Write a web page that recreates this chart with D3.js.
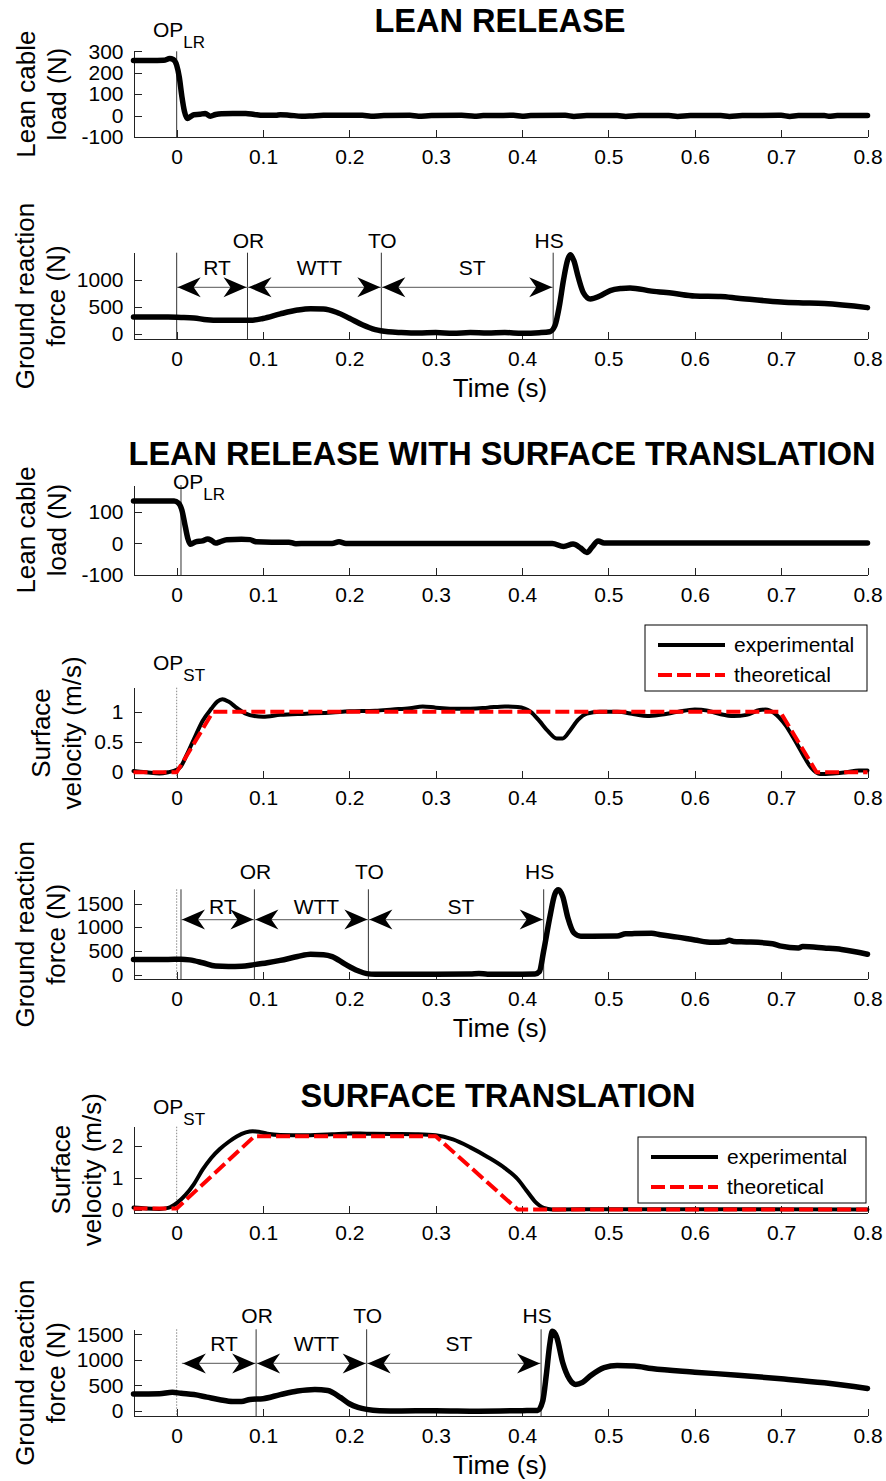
<!DOCTYPE html>
<html>
<head>
<meta charset="utf-8">
<script src="https://cdn.jsdelivr.net/npm/d3@7/dist/d3.min.js"></script>
<style>
  html, body { margin: 0; padding: 0; background: #fff; }
  svg { display: block; font-family: "Liberation Sans", Arial, Helvetica, sans-serif; }
  .axis path, .axis line { stroke: #222; stroke-width: 1; shape-rendering: crispEdges; }
  .axis text { font-size: 21px; fill: #000; }
</style>
</head>
<body>
<script>
// ---------- shared time axis ----------
const timeDomain = [-0.05, 0.8];
const timeTicks = [0, 0.1, 0.2, 0.3, 0.4, 0.5, 0.6, 0.7, 0.8];
const timeTickLabels = ["0", "0.1", "0.2", "0.3", "0.4", "0.5", "0.6", "0.7", "0.8"];

// ---------- LEAN RELEASE ----------
const lrCableTicks = [300, 200, 100, 0, -100];
const lrCable = [[-0.05,257],[-0.03,257],[-0.015,258],[-0.008,266],[-0.004,262],[0,235],[0.003,180],[0.006,90],[0.009,20],[0.0125,-14],[0.016,-5],[0.02,4],[0.027,6],[0.033,10],[0.039,-3],[0.045,5],[0.052,9],[0.065,10],[0.08,10],[0.09,5],[0.1,1],[0.115,2],[0.12,4],[0.13,2],[0.145,-3],[0.155,-2],[0.17,1],[0.2,1],[0.215,1],[0.225,-3],[0.24,0],[0.27,1],[0.28,-3],[0.295,0],[0.33,1],[0.345,-3],[0.355,0],[0.39,1],[0.4,-3],[0.41,0],[0.45,1],[0.46,-4],[0.475,0],[0.51,0],[0.52,-4],[0.535,0],[0.57,0],[0.58,-4],[0.595,0],[0.63,0],[0.64,-4],[0.655,0],[0.7,1],[0.71,-4],[0.72,0],[0.75,0],[0.755,-3],[0.765,0],[0.8,0]];

const lrGrfTicks = [0, 500, 1000];
const lrGrf = [[-0.05,310],[-0.01,310],[0.005,305],[0.02,295],[0.035,260],[0.05,250],[0.085,250],[0.1,285],[0.12,370],[0.14,440],[0.155,465],[0.17,460],[0.185,400],[0.2,290],[0.215,170],[0.23,80],[0.245,40],[0.26,25],[0.28,15],[0.3,25],[0.32,12],[0.34,25],[0.36,15],[0.38,25],[0.4,12],[0.42,22],[0.432,40],[0.438,150],[0.443,500],[0.448,1000],[0.453,1380],[0.456,1460],[0.46,1350],[0.465,1050],[0.471,760],[0.479,645],[0.49,700],[0.502,800],[0.515,840],[0.525,850],[0.55,790],[0.575,750],[0.6,700],[0.63,690],[0.65,660],[0.7,590],[0.72,575],[0.75,560],[0.8,485]];
const lrEvents = { OP: 0, OR: 0.082, TO: 0.237, HS: 0.436 };

// ---------- LEAN RELEASE WITH SURFACE TRANSLATION ----------
const lrstCableTicks = [100, 0, -100];
const lrstCable = [[-0.05,134],[-0.003,134],[0.002,128],[0.006,106],[0.01,53],[0.013,15],[0.016,-3],[0.022,5],[0.03,8],[0.036,14],[0.04,10],[0.045,1],[0.05,5],[0.058,12],[0.075,13],[0.085,12],[0.092,5],[0.11,4],[0.13,4],[0.138,-1],[0.15,0],[0.18,0],[0.188,5],[0.196,0],[0.435,0],[0.448,-10],[0.459,-2],[0.468,-15],[0.475,-29],[0.481,-12],[0.488,8],[0.495,1],[0.8,1]];

const lrstVelTicks = [0, 0.5, 1];
const lrstVelExp = [[-0.05,0.02],[-0.035,0.0],[-0.02,-0.02],[-0.01,0.0],[0,0.04],[0.005,0.1],[0.012,0.3],[0.02,0.55],[0.03,0.85],[0.04,1.05],[0.047,1.17],[0.053,1.21],[0.06,1.17],[0.07,1.06],[0.08,0.97],[0.09,0.93],[0.1,0.92],[0.12,0.95],[0.15,0.97],[0.18,0.99],[0.2,1.01],[0.23,1.02],[0.25,1.04],[0.27,1.06],[0.285,1.09],[0.3,1.07],[0.33,1.05],[0.36,1.07],[0.38,1.09],[0.395,1.08],[0.41,1.0],[0.42,0.85],[0.43,0.68],[0.44,0.56],[0.447,0.56],[0.455,0.68],[0.465,0.87],[0.475,0.97],[0.49,1.0],[0.51,1.0],[0.53,0.96],[0.545,0.93],[0.56,0.95],[0.58,1.0],[0.6,1.04],[0.615,1.02],[0.63,0.96],[0.645,0.93],[0.66,0.95],[0.675,1.03],[0.682,1.04],[0.692,0.98],[0.705,0.78],[0.715,0.55],[0.725,0.3],[0.735,0.07],[0.745,-0.03],[0.76,-0.02],[0.775,0.0],[0.79,0.03],[0.8,0.03]];
const lrstVelTheo = [[-0.05,0],[0,0],[0.042,1],[0.699,1],[0.741,0],[0.8,0]];

const lrstGrfTicks = [0, 500, 1000, 1500];
const lrstGrf = [[-0.05,320],[-0.01,320],[0.005,325],[0.015,310],[0.03,250],[0.045,180],[0.06,170],[0.075,175],[0.09,210],[0.105,250],[0.12,300],[0.14,380],[0.155,430],[0.17,420],[0.18,380],[0.195,220],[0.21,80],[0.22,20],[0.23,5],[0.3,5],[0.34,10],[0.35,22],[0.36,8],[0.4,8],[0.415,10],[0.42,60],[0.425,500],[0.432,1200],[0.438,1700],[0.442,1790],[0.447,1650],[0.453,1200],[0.46,880],[0.468,810],[0.48,810],[0.51,815],[0.52,860],[0.53,865],[0.55,870],[0.56,840],[0.58,790],[0.6,730],[0.62,680],[0.635,695],[0.64,725],[0.645,700],[0.66,690],[0.69,650],[0.7,600],[0.72,560],[0.725,590],[0.75,560],[0.77,530],[0.8,430]];
const lrstEvents = { OP: 0, OPLR: 0.005, OR: 0.09, TO: 0.222, HS: 0.425 };

// ---------- SURFACE TRANSLATION ----------
const stVelTicks = [0, 1, 2];
const stVelExp = [[-0.05,0.06],[-0.035,0.03],[-0.02,0.02],[-0.01,0.05],[0,0.2],[0.01,0.45],[0.02,0.8],[0.03,1.25],[0.04,1.62],[0.05,1.9],[0.06,2.12],[0.07,2.3],[0.08,2.42],[0.088,2.46],[0.095,2.44],[0.105,2.38],[0.12,2.34],[0.15,2.33],[0.18,2.36],[0.2,2.39],[0.22,2.38],[0.25,2.37],[0.28,2.36],[0.3,2.33],[0.32,2.2],[0.34,1.95],[0.36,1.65],[0.38,1.3],[0.395,0.95],[0.405,0.6],[0.415,0.25],[0.425,0.05],[0.435,0.0],[0.5,0.01],[0.6,0.01],[0.8,0.0]];
const stVelTheo = [[-0.05,0.03],[0,0.03],[0.09,2.3],[0.3,2.3],[0.395,0],[0.8,0]];

const stGrfTicks = [0, 500, 1000, 1500];
const stGrf = [[-0.05,330],[-0.02,335],[-0.005,365],[0.005,345],[0.02,320],[0.035,270],[0.05,220],[0.065,185],[0.075,185],[0.085,225],[0.1,240],[0.12,320],[0.14,390],[0.16,420],[0.175,400],[0.19,260],[0.2,140],[0.21,70],[0.22,30],[0.235,5],[0.26,0],[0.3,5],[0.35,-5],[0.4,5],[0.418,10],[0.424,200],[0.428,700],[0.432,1300],[0.435,1560],[0.44,1450],[0.447,950],[0.455,620],[0.462,520],[0.47,560],[0.48,700],[0.495,850],[0.51,890],[0.53,880],[0.55,830],[0.6,760],[0.65,700],[0.7,630],[0.75,550],[0.8,440]];
const stEvents = { OP: 0, OR: 0.092, TO: 0.22, HS: 0.422 };

const legendLabels = ["experimental", "theoretical"];

// ---------- drawing ----------
const W = 886, H = 1481;
const svg = d3.select("body").append("svg").attr("width", W).attr("height", H);
const x = d3.scaleLinear().domain(timeDomain).range([133.5, 867.5]);

function panel(top, bottom, yDomain, yTicks, yLabelLines, labelX, opts = {}) {
  const y = d3.scaleLinear().domain(yDomain).range([bottom, top]);
  const g = svg.append("g");
  g.append("g").attr("class", "axis")
    .attr("transform", `translate(0,${bottom})`)
    .call(d3.axisBottom(x).tickValues(timeTicks)
      .tickFormat((d, i) => timeTickLabels[i])
      .tickSizeInner(-7).tickSizeOuter(0).tickPadding(12));
  g.append("g").attr("class", "axis")
    .attr("transform", `translate(${x.range()[0]},0)`)
    .call(d3.axisLeft(y).tickValues(yTicks).tickFormat(d => String(d))
      .tickSizeInner(-8).tickSizeOuter(0).tickPadding(10));
  const yl = g.append("g").attr("transform", `translate(${labelX},${(top + bottom) / 2}) rotate(-90)`);
  yLabelLines.forEach((s, i) => {
    yl.append("text").attr("x", 0).attr("y", i * 31).attr("text-anchor", "middle")
      .attr("font-size", 26).text(s);
  });
  if (opts.xLabel) {
    g.append("text").attr("x", 500).attr("y", bottom + 58).attr("text-anchor", "middle")
      .attr("font-size", 26).text("Time (s)");
  }
  return { g, y, top, bottom };
}

function series(p, data, color, width, dash, straight) {
  const line = d3.line().x(d => x(d[0])).y(d => p.y(d[1]))
    .curve(straight ? d3.curveLinear : d3.curveMonotoneX);
  p.g.append("path").datum(data).attr("d", line)
    .attr("fill", "none").attr("stroke", color).attr("stroke-width", width)
    .attr("stroke-linejoin", "round").attr("stroke-linecap", dash ? "butt" : "round")
    .attr("stroke-dasharray", dash || null);
}

function vline(p, t, style) {
  const l = p.g.append("line").attr("x1", x(t)).attr("x2", x(t))
    .attr("y1", p.top).attr("y2", p.bottom).attr("stroke-width", 1);
  if (style === "dotted") l.attr("stroke", "#888").attr("stroke-dasharray", "1.5,1.5");
  else l.attr("stroke", "#333");
}

function opLabel(p, sub, xpos, baseline) {
  const tx = p.g.append("text").attr("x", xpos).attr("y", baseline).attr("font-size", 21);
  tx.append("tspan").text("OP");
  tx.append("tspan").attr("font-size", 17).attr("dy", 11).text(sub);
}

function arrowHead(g, tipX, yv, dir) {
  // filled head with a notched back, dir = +1 points right, -1 points left
  const L = 23, hw = 10, notch = 16;
  const pts = [[tipX, yv], [tipX - dir * L, yv - hw], [tipX - dir * notch, yv], [tipX - dir * L, yv + hw]];
  g.append("path").attr("d", "M" + pts.map(q => q.join(",")).join("L") + "Z").attr("fill", "#000");
}

function interval(p, t0, t1, yv, label, labelDy) {
  const x0 = x(t0), x1 = x(t1), yy = p.y(yv);
  p.g.append("line").attr("x1", x0).attr("x2", x1).attr("y1", yy).attr("y2", yy)
    .attr("stroke", "#777").attr("stroke-width", 1.2);
  arrowHead(p.g, x0 + 1, yy, -1);
  arrowHead(p.g, x1 - 1, yy, 1);
  p.g.append("text").attr("x", (x0 + x1) / 2 + 5).attr("y", yy + labelDy)
    .attr("text-anchor", "middle").attr("font-size", 21).text(label);
}

function eventLabels(p, ev, names, baseline) {
  names.forEach(n => {
    p.g.append("text").attr("x", x(ev[n]) + (n === "HS" ? -4 : 1)).attr("y", baseline)
      .attr("text-anchor", "middle").attr("font-size", 21).text(n);
  });
}

function legend(p, bx, by, bw, bh) {
  const lg = p.g.append("g");
  lg.append("rect").attr("x", bx).attr("y", by).attr("width", bw).attr("height", bh)
    .attr("fill", "#fff").attr("stroke", "#000").attr("stroke-width", 1);
  const rowY = [by + 20, by + 50];
  lg.append("line").attr("x1", bx + 13).attr("x2", bx + 80).attr("y1", rowY[0]).attr("y2", rowY[0])
    .attr("stroke", "#000").attr("stroke-width", 4);
  lg.append("line").attr("x1", bx + 13).attr("x2", bx + 80).attr("y1", rowY[1]).attr("y2", rowY[1])
    .attr("stroke", "#ff0000").attr("stroke-width", 4).attr("stroke-dasharray", "14,5");
  legendLabels.forEach((s, i) => {
    lg.append("text").attr("x", bx + 89).attr("y", rowY[i] + 7).attr("font-size", 21).text(s);
  });
}

function title(txt, cx, baseline) {
  svg.append("text").attr("x", cx).attr("y", baseline).attr("text-anchor", "middle")
    .attr("font-size", 32.5).attr("font-weight", "bold").text(txt);
}

// LEAN RELEASE
title("LEAN RELEASE", 500, 32);
const p1 = panel(51.3, 137, [-100, 300], lrCableTicks, ["Lean cable", "load (N)"], 35);
vline(p1, 0);
series(p1, lrCable, "#000", 5.5);
opLabel(p1, "LR", 153, 37);

const p2 = panel(252.7, 339.3, [-100, 1500], lrGrfTicks, ["Ground reaction", "force (N)"], 34, { xLabel: true });
vline(p2, lrEvents.OP); vline(p2, lrEvents.OR); vline(p2, lrEvents.TO); vline(p2, lrEvents.HS);
interval(p2, lrEvents.OP, lrEvents.OR, 860, "RT", -12);
interval(p2, lrEvents.OR, lrEvents.TO, 860, "WTT", -12);
interval(p2, lrEvents.TO, lrEvents.HS, 860, "ST", -12);
eventLabels(p2, lrEvents, ["OR", "TO", "HS"], 248);
series(p2, lrGrf, "#000", 5.5);

// LEAN RELEASE WITH SURFACE TRANSLATION
title("LEAN RELEASE WITH SURFACE TRANSLATION", 502, 465);
const p3 = panel(485, 575, [-100, 185], lrstCableTicks, ["Lean cable", "load (N)"], 35);
vline(p3, lrstEvents.OPLR);
series(p3, lrstCable, "#000", 5.5);
opLabel(p3, "LR", 173, 489);

const p4 = panel(687.7, 778.3, [-0.1, 1.4], lrstVelTicks, ["Surface", "velocity (m/s)"], 50);
vline(p4, 0, "dotted");
series(p4, lrstVelExp, "#000", 4);
series(p4, lrstVelTheo, "#ff0000", 4, "14,5", true);
opLabel(p4, "ST", 153, 670);
legend(p4, 645, 625, 222, 66);

const p5 = panel(889.3, 979.3, [-100, 1800], lrstGrfTicks, ["Ground reaction", "force (N)"], 34, { xLabel: true });
vline(p5, lrstEvents.OP, "dotted"); vline(p5, lrstEvents.OPLR); vline(p5, lrstEvents.OR);
vline(p5, lrstEvents.TO); vline(p5, lrstEvents.HS);
interval(p5, lrstEvents.OPLR, lrstEvents.OR, 1160, "RT", -6);
interval(p5, lrstEvents.OR, lrstEvents.TO, 1160, "WTT", -6);
interval(p5, lrstEvents.TO, lrstEvents.HS, 1160, "ST", -6);
eventLabels(p5, lrstEvents, ["OR", "TO", "HS"], 879);
series(p5, lrstGrf, "#000", 5.5);

// SURFACE TRANSLATION
title("SURFACE TRANSLATION", 498, 1107);
const p6 = panel(1126.7, 1212.7, [-0.1, 2.6], stVelTicks, ["Surface", "velocity (m/s)"], 70);
vline(p6, 0, "dotted");
series(p6, stVelExp, "#000", 4);
series(p6, stVelTheo, "#ff0000", 4, "14,5", true);
opLabel(p6, "ST", 153, 1114);
legend(p6, 638, 1137, 228, 66);

const p7 = panel(1329.3, 1416, [-100, 1600], stGrfTicks, ["Ground reaction", "force (N)"], 34, { xLabel: true });
vline(p7, stEvents.OP, "dotted"); vline(p7, stEvents.OR); vline(p7, stEvents.TO); vline(p7, stEvents.HS);
interval(p7, 0.006, stEvents.OR, 930, "RT", -12);
interval(p7, stEvents.OR, stEvents.TO, 930, "WTT", -12);
interval(p7, stEvents.TO, stEvents.HS, 930, "ST", -12);
eventLabels(p7, stEvents, ["OR", "TO", "HS"], 1323);
series(p7, stGrf, "#000", 5.5);
</script>
</body>
</html>
